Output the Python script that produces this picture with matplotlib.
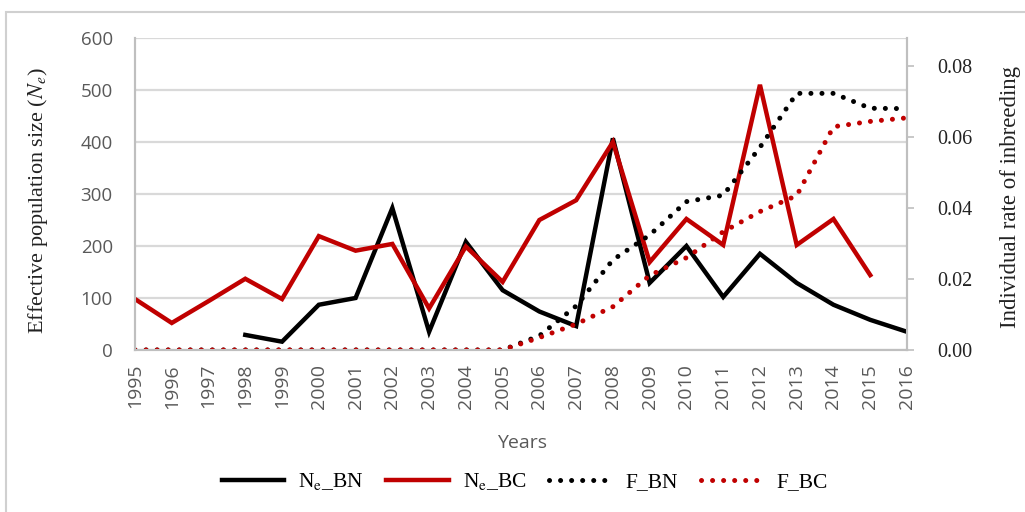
import numpy as np
import matplotlib.pyplot as plt
from matplotlib.patches import Rectangle

plt.rcParams['mathtext.fontset'] = 'stix'

# data
years = list(range(1995, 2017))
ne_bn = [np.nan, np.nan, np.nan, 29, 16, 87, 100, 273, 35, 208, 115,
         74, 46, 407, 129, 200, 102, 185, 129, 87, 58, 35]
ne_bc = [98, 52, 94, 137, 98, 219, 191, 204, 80, 199, 131,
         250, 288, 400, 169, 252, 202, 510, 202, 252, 144, np.nan]
f_bn = [0, 0, 0, 0, 0, 0, 0, 0, 0, 0, 0,
        0.004, 0.0124, 0.0254, 0.0324, 0.0418, 0.0436, 0.0571, 0.0723, 0.0723, 0.0681, 0.068]
f_bc = [0, 0, 0, 0, 0, 0, 0, 0, 0, 0, 0,
        0.0035, 0.0073, 0.0122, 0.021, 0.026, 0.0333, 0.039, 0.0435, 0.0629, 0.0644, 0.0654]

labels = [r'N$_{\mathrm{e}}$_BN', r'N$_{\mathrm{e}}$_BC', 'F_BN', 'F_BC']
left_ticks = [0, 100, 200, 300, 400, 500, 600]
right_ticks = [0.0, 0.02, 0.04, 0.06, 0.08]

red = '#C00000'
gray_txt = '#595959'
grid_c = '#D9D9D9'
sans = 'Open Sans'
serif = 'Liberation Serif'

fig = plt.figure(figsize=(10.25, 5.12), dpi=100)
# outer frame of the figure panel
fig.patches.append(Rectangle((6 / 1025, -0.1), 1.2, 1.1 - 12 / 512,
                             transform=fig.transFigure, fill=False,
                             edgecolor='#D0D0D0', linewidth=1.5))

ax = fig.add_axes([135 / 1025, 1 - 350 / 512, 772 / 1025, 312 / 512])
ax2 = ax.twinx()

dots = (0, (0.01, 2.2))
l1, = ax.plot(years, ne_bn, color='black', lw=3.2, solid_joinstyle='miter', zorder=3)
l2, = ax.plot(years, ne_bc, color=red, lw=3.2, solid_joinstyle='miter', zorder=3)
l3, = ax2.plot(years, f_bn, color='black', lw=3.6, linestyle=dots, dash_capstyle='round')
l4, = ax2.plot(years, f_bc, color=red, lw=3.6, linestyle=dots, dash_capstyle='round')

ax.set_xlim(1995, 2016)
ax.set_ylim(0, 600)
ax2.set_ylim(0, 0.0879)

ax.set_yticks(left_ticks)
ax.yaxis.grid(True, color=grid_c, lw=1.6)
ax.set_axisbelow(True)
ax.set_xticks(years)
ax.set_xticklabels([str(y) for y in years], rotation=90, fontsize=14,
                   family=sans, color=gray_txt)
ax.set_yticklabels([str(v) for v in left_ticks], fontsize=13.5,
                   family=sans, color=gray_txt)
ax.tick_params(axis='x', length=0, pad=10)
ax.tick_params(axis='y', length=0, pad=16)

ax2.set_yticks(right_ticks)
ax2.set_yticklabels(['%.2f' % v for v in right_ticks], fontsize=14.5,
                    family=serif, color='#222222')
ax2.tick_params(axis='y', length=5, width=1.2, color='#BFBFBF', pad=17)

for a in (ax, ax2):
    a.spines['top'].set_visible(False)
    for side in ('left', 'right', 'bottom'):
        a.spines[side].set_color('#BFBFBF')
        a.spines[side].set_linewidth(1.5)

ax.set_ylabel(r'Effective population size ($N_e$)', fontsize=16,
              family=serif, color='#222222')
ax.yaxis.set_label_coords(-0.110, 0.48)
ax2.set_ylabel('Individual rate of inbreeding', fontsize=16.5,
               family=serif, color='#222222', rotation=90)
ax2.yaxis.set_label_coords(1.1205, 0.49)
ax.set_xlabel('Years', fontsize=14, family=sans, color=gray_txt)
ax.xaxis.set_label_coords(0.501, -0.27)

fig.legend([l1, l2, l3, l4], labels, loc='center',
           bbox_to_anchor=(525 / 1025, 1 - 482 / 512), ncol=4, frameon=False,
           prop={'family': serif, 'size': 15.5}, handlelength=2.9,
           handletextpad=0.65, columnspacing=1.05)

fig.savefig('out.png', dpi=100)
